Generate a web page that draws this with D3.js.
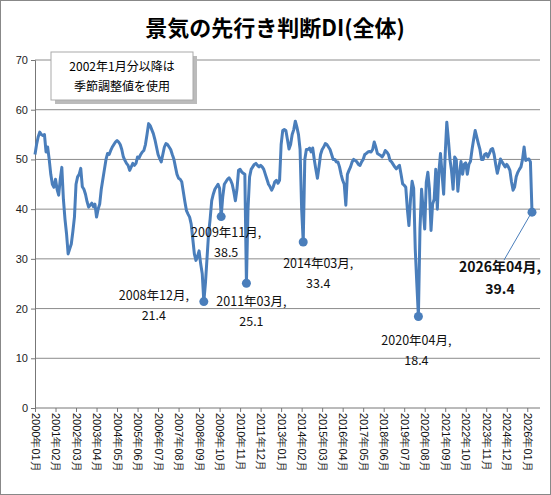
<!DOCTYPE html>
<html><head><meta charset="utf-8">
<script src="https://cdn.jsdelivr.net/npm/d3@7"></script>
<style>body{margin:0;background:#fff}svg{font-family:"Noto Sans CJK JP","Noto Sans",sans-serif}</style>
</head><body><svg id="c" width="551" height="495"></svg>
<script>
const startYear = 2000;
const values = [
51,53,54.5,55.5,55,54.8,55,51.5,52.5,50,47,45,
44.4,46,44,42.8,46,48.4,42,38,35,31,32,33,
35.5,38.4,45,46.5,47,48.2,44.5,44,43,41.5,40.4,40.8,
41.2,40.5,41,38.4,40,41,44,46,48,50,51.2,51,
51.8,52.5,53,53.5,53.8,53.5,53,52,50.5,49.8,49.2,48.8,
47.8,48.5,49.2,48.8,49.2,50.5,50.3,51,51.5,51.8,53,55,
57.2,56.8,56,55.2,54,52.5,51,50.2,49.5,51,52.5,53.2,
53,52.5,52,51,50.1,48.5,47,46.2,46,45.5,43.5,41.5,
39.7,39,38.4,37,34,31,29.7,30.5,31.6,29,27,21.4,
25,30,35,38,41.7,43,44,44.5,45,44.2,38.5,42.5,
45,45.5,46,46.3,45.8,45,43.5,41.7,44,47.8,48,47.5,
47.2,47,25.1,40,46.5,48,48.5,49,49.2,48.8,48.5,48.8,
48.5,48,47,46,45,44.5,43.8,44.5,45.5,45.8,45.2,45.8,
53,55.8,56,55.8,54,52.1,53,55,56,57.7,56.5,55,
52,40,33.4,50,52,52,52.3,51.5,52.3,50,48,46.2,
48.5,51,52,52.5,53.2,53,52.5,52,51,50,50,49.5,
49.5,48.5,47,45.8,45,40.8,47,47.8,48.5,49.5,50,49.8,
49.5,49,48.8,49.5,50,51,51.2,51.5,51.6,51.5,52,53.5,
52.5,51.2,51,50.8,50.5,51,51.8,51.5,51,49.8,49.5,49,
48.5,48.1,48.5,48.8,47,45.1,44.8,44.4,40,36.7,42,45.6,
44.2,32,25,18.4,36,44,40,36,45.4,47.4,44,35.7,
41,42,48,40,47.5,51.2,47,43,51.2,57.5,54,50,
47.7,44,50.5,50,43.6,47,49.6,47,49,49.3,47,49,
49.6,52,54,55.8,54.5,53.2,52,50,50,51,51.2,50.5,
51.2,52,52.2,51,49,47.2,48.5,50.1,49.5,49,48.5,49,
48.5,47.8,45.5,43.8,44.5,46.5,47.4,48,48.5,50,52.5,49.8,
50,50.1,49.5,39.4];
const months = values.map((v,i)=>`${startYear+Math.floor(i/12)}年${String(i%12+1).padStart(2,"0")}月`);
const yTicks = [0,10,20,30,40,50,60,70];
const notes = [
 {i:107, lines:["2008年12月,","21.4"], dx:-50, dy:-2},
 {i:118, lines:["2009年11月,","38.5"], dx:5, dy:20},
 {i:134, lines:["2011年03月,","25.1"], dx:5, dy:23},
 {i:170, lines:["2014年03月,","33.4"], dx:15, dy:26},
 {i:243, lines:["2020年04月,","18.4"], dx:-2, dy:28},
 {i:315, lines:["2026年04月,","39.4"], dx:-32, dy:60, big:true}
];
const svg = d3.select("#c");
svg.append("rect").attr("x",0.5).attr("y",0.5).attr("width",550).attr("height",494).attr("fill","#fff").attr("stroke","#888");
const L=35,R=532,T=60,B=408;
const x = d3.scaleLinear().domain([0,values.length-1]).range([L,R]);
const y = d3.scaleLinear().domain([0,70]).range([B,T]);
svg.append("g").selectAll("line").data(yTicks.slice(1)).join("line")
 .attr("x1",L).attr("x2",540).attr("y1",d=>y(d)).attr("y2",d=>y(d)).attr("stroke","#8c8c8c");
const ya = svg.append("g").attr("transform",`translate(${L},0)`).call(d3.axisLeft(y).tickValues(yTicks).tickSize(4));
ya.selectAll("text").attr("font-size",11).attr("fill","#222").attr("font-family","Liberation Sans");
ya.selectAll("path,line").attr("stroke","#777");
const xt = d3.range(0,values.length,13);
const xa = svg.append("g").attr("transform",`translate(0,${B})`).call(d3.axisBottom(x).tickValues(xt).tickSize(4).tickFormat(i=>months[i]));
xa.select("path").attr("d",`M${L},0H540`).attr("stroke","#777");
xa.selectAll("line").attr("stroke","#777");
xa.selectAll("text").attr("font-size",11).attr("fill","#111").attr("transform","rotate(90)").attr("text-anchor","start").attr("x",5).attr("y",0).attr("dy","0.35em");
svg.append("path").datum(values).attr("fill","none").attr("stroke","#4a7ebb").attr("stroke-width",3).attr("stroke-linejoin","round")
 .attr("d",d3.line().x((d,i)=>x(i)).y(d=>y(d)));
notes.forEach(n=>{
 const px=x(n.i), py=y(values[n.i]);
 svg.append("circle").attr("cx",px).attr("cy",py).attr("r",4.5).attr("fill","#4a7ebb");
 const tx=px+n.dx, ty=py+n.dy;
 if(n.big) svg.append("line").attr("x1",px-2).attr("y1",py+3).attr("x2",tx+4).attr("y2",ty-12).attr("stroke","#4a7ebb");
 n.lines.forEach((t,k)=>svg.append("text").attr("x",tx).attr("y",ty+k*(n.big?22:20)).attr("text-anchor","middle")
  .attr("font-size",n.big?14:12.5).attr("font-weight",n.big?"bold":"normal").attr("fill","#111").text(t));
});
svg.append("text").attr("x",275).attr("y",36).attr("text-anchor","middle").attr("font-size",22).attr("font-weight","bold").text("景気の先行き判断DI(全体)");
svg.append("rect").attr("x",55).attr("y",56).attr("width",142).attr("height",48).attr("fill","#bbb");
svg.append("rect").attr("x",51).attr("y",52).attr("width",142).attr("height",48).attr("fill","#fff").attr("stroke","#aaa");
[["2002年1月分以降は",71],["季節調整値を使用",91]].forEach(([t,yy])=>svg.append("text").attr("x",122).attr("y",yy).attr("text-anchor","middle").attr("font-size",12).text(t));
</script></body></html>
